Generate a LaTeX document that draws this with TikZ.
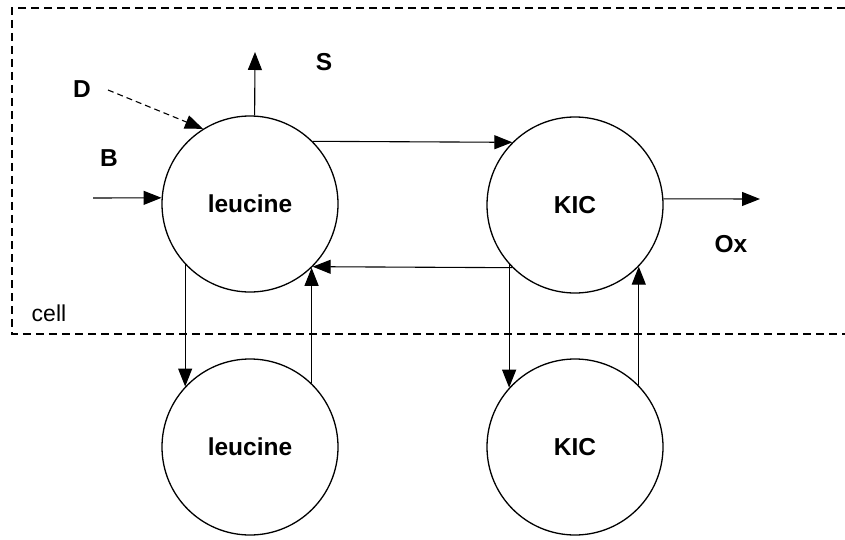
\documentclass[tikz,border=0pt]{standalone}
\usepackage{fontspec}
\setmainfont{Liberation Sans}
\usetikzlibrary{arrows.meta}
\begin{document}
\begin{tikzpicture}[x=1pt,y=-1pt,
  pool/.style={circle,draw,line width=1.3pt,minimum size=176pt,inner sep=0pt,
    font=\fontsize{24.5}{28}\selectfont\bfseries},
  flow/.style={line width=1.1pt,-{Triangle[length=18pt,width=14pt]}},
  lbl/.style={font=\fontsize{24.5}{28}\selectfont\bfseries},
  border/.style={line width=1.6pt,dash pattern=on 8pt off 5pt}]
\useasboundingbox (0,0) rectangle (845,540);
% cell boundary (open on the right)
\draw[border] (845,8) -- (12,8) -- (12,334) -- (845,334);
\node[font=\fontsize{23}{27}\selectfont] (cell) at (49,313) {cell};
% pools
\node[pool] (L1) at (250,204) {leucine};
\node[pool] (K1) at (575,205) {KIC};
\node[pool] (L2) at (250,447) {leucine};
\node[pool] (K2) at (575,447) {KIC};
% free ends
\coordinate (bin) at (93,198);
\coordinate (dstart) at (108,90);
\coordinate (stop) at (255,52);
\coordinate (oxend) at (760,199);
% labels
\node[lbl] (B) at (109,158) {B};
\node[lbl] (D) at (82,89) {D};
\node[lbl] (S) at (324,62) {S};
\node[lbl] (Ox) at (731,244) {Ox};
% fluxes
\draw[flow] (bin) -- (L1.176);
\draw[flow,dash pattern=on 6pt off 4pt] (dstart) -- (L1.122);
\draw[flow] (L1.87) -- (stop);
\draw[flow] (L1.45) -- (K1.135);
\draw[flow] (K1.-135) -- (L1.-45);
\draw[flow] (K1.4) -- (oxend);
\draw[flow] (L1.-137) -- (L2.137);
\draw[flow] (L2.46) -- (L1.-46);
\draw[flow] (K1.-138) -- (K2.138);
\draw[flow] (K2.44) -- (K1.-44);
\end{tikzpicture}
\end{document}
